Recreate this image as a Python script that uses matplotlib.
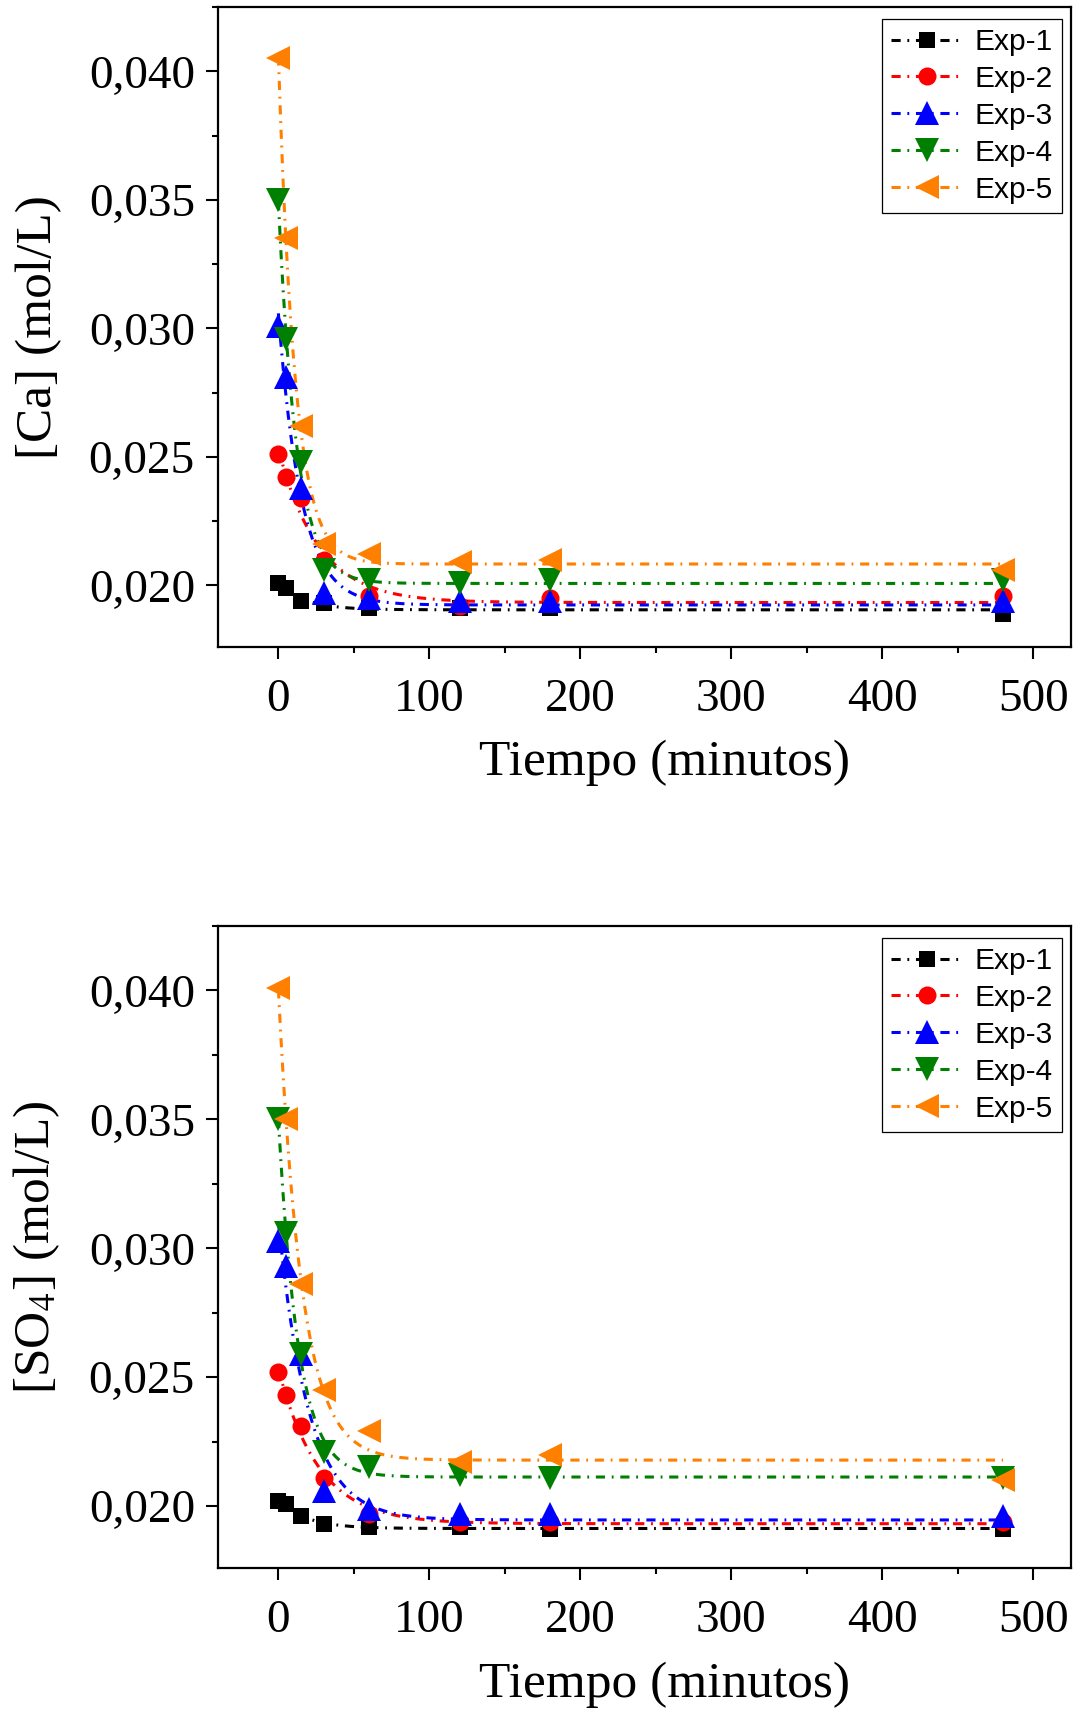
import numpy as np
import matplotlib
matplotlib.use("Agg")
import matplotlib.pyplot as plt
from matplotlib.ticker import FuncFormatter, MultipleLocator

plt.rcParams['font.family'] = ['Liberation Serif', 'DejaVu Serif']
plt.rcParams['mathtext.fontset'] = 'stix'

tiempo = [0, 5, 15, 30, 60, 120, 180, 480]
labels = ['Exp-1', 'Exp-2', 'Exp-3', 'Exp-4', 'Exp-5']

ca_exp1 = [0.0201, 0.0199, 0.0194, 0.0193, 0.0191, 0.0191, 0.0191, 0.0189]
ca_exp2 = [0.0251, 0.0242, 0.0234, 0.0210, 0.0196, 0.0192, 0.0195, 0.0196]
ca_exp3 = [0.0301, 0.0281, 0.0238, 0.0197, 0.0195, 0.0194, 0.0194, 0.0194]
ca_exp4 = [0.0350, 0.0296, 0.0248, 0.0206, 0.0202, 0.0201, 0.0202, 0.0202]
ca_exp5 = [0.0405, 0.0335, 0.0262, 0.0216, 0.0212, 0.0209, 0.0210, 0.0206]

so4_exp1 = [0.0202, 0.0201, 0.0196, 0.0193, 0.0192, 0.0192, 0.0191, 0.0191]
so4_exp2 = [0.0252, 0.0243, 0.0231, 0.0211, 0.0197, 0.0194, 0.0194, 0.0194]
so4_exp3 = [0.0303, 0.0293, 0.0259, 0.0206, 0.0199, 0.0197, 0.0197, 0.0196]
so4_exp4 = [0.0350, 0.0306, 0.0259, 0.0221, 0.0215, 0.0212, 0.0211, 0.0211]
so4_exp5 = [0.0401, 0.0350, 0.0286, 0.0245, 0.0229, 0.0217, 0.0220, 0.0210]

colors = ['black', 'red', 'blue', 'green', '#ff8000']
markers = ['s', 'o', '^', 'v', '<']
msizes = [11, 13, 17, 17, 17]
dash = [3, 2.2, 0.6, 2.2]


def exp_fit(t, y):
    # y = c + a*exp(-t/tau), best tau on a grid, a and c by least squares
    t = np.asarray(t, float)
    y = np.asarray(y, float)
    best = None
    for tau in np.linspace(2, 60, 300):
        A = np.column_stack([np.ones_like(t), np.exp(-t / tau)])
        coef, res, _, _ = np.linalg.lstsq(A, y, rcond=None)
        err = np.sum((A @ coef - y) ** 2)
        if best is None or err < best[0]:
            best = (err, tau, coef)
    _, tau, coef = best
    tt = np.linspace(0, 480, 600)
    return tt, coef[0] + coef[1] * np.exp(-tt / tau)


def comma(v, pos):
    return ('%.3f' % v).replace('.', ',')


def draw(ax, series, ylabel):
    for y, c, m, ms, lab in zip(series, colors, markers, msizes, labels):
        tt, yy = exp_fit(tiempo, y)
        ax.plot(tt, yy, color=c, lw=2.2, dashes=dash, zorder=2)
        ax.plot(tiempo, y, linestyle='none', marker=m, color=c, markersize=ms,
                markeredgewidth=0, zorder=3)
        ax.plot([], [], color=c, lw=2.2, dashes=dash, marker=m,
                markersize=ms, markeredgewidth=0, label=lab)
    ax.set_xlim(-40, 525)
    ax.set_ylim(0.0176, 0.0425)
    ax.xaxis.set_major_locator(MultipleLocator(100))
    ax.xaxis.set_minor_locator(MultipleLocator(50))
    ax.yaxis.set_major_locator(MultipleLocator(0.005))
    ax.yaxis.set_minor_locator(MultipleLocator(0.0025))
    ax.yaxis.set_major_formatter(FuncFormatter(comma))
    ax.tick_params(which='major', direction='out', length=8.6, width=1.5,
                   labelsize=34)
    ax.tick_params(which='minor', direction='out', length=4.5, width=1.5)
    ax.tick_params(axis='x', which='major', pad=14)
    ax.tick_params(axis='y', which='major', pad=8)
    for s in ax.spines.values():
        s.set_linewidth(1.6)
    ax.set_xlabel('Tiempo (minutos)', fontsize=37)
    ax.xaxis.set_label_coords(0.523, -0.145)
    ax.set_ylabel(ylabel, fontsize=37, labelpad=19)
    leg = ax.legend(loc='upper right', bbox_to_anchor=(1 - 9 / 853, 1 - 12 / 640),
                    borderaxespad=0, prop={'family': 'Liberation Sans', 'size': 21.5},
                    frameon=True, fancybox=False, edgecolor='black', framealpha=1,
                    handlelength=2.4, labelspacing=0.3, handletextpad=0.4,
                    borderpad=0.3)
    leg.get_frame().set_linewidth(0.9)


fig = plt.figure(figsize=(10.77, 17.11), dpi=100)
ax1 = fig.add_axes([0.2024, 0.6219, 0.792, 0.374])
ax2 = fig.add_axes([0.2024, 0.0836, 0.792, 0.3752])

draw(ax1, [ca_exp1, ca_exp2, ca_exp3, ca_exp4, ca_exp5], '[Ca] (mol/L)')
draw(ax2, [so4_exp1, so4_exp2, so4_exp3, so4_exp4, so4_exp5], r'[SO$_4$] (mol/L)')

fig.savefig('out.png', dpi=100)
